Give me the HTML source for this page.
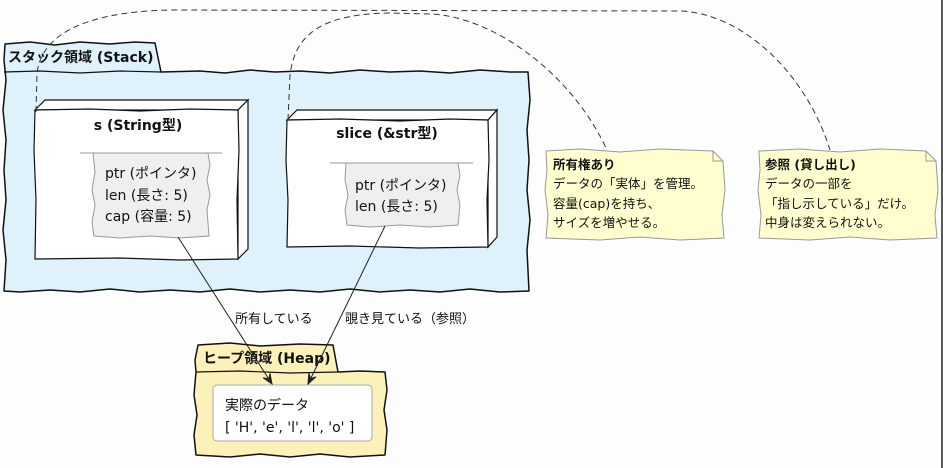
<!DOCTYPE html>
<html><head><meta charset="utf-8"><style>
html,body{margin:0;padding:0;background:#fdfdfd;}
svg{display:block;}
text{font-family:"DejaVu Sans","Noto Sans CJK JP",sans-serif;fill:#111;}
.b{font-weight:bold;font-size:14px;}
.t{font-size:14px;}
.n{font-size:12.5px;}
.c{font-size:13px;}
</style></head><body>
<svg width="943" height="468" viewBox="0 0 943 468" xmlns="http://www.w3.org/2000/svg">
<rect x="0" y="0" width="943" height="468" fill="#fdfdfd"/>
<line x1="942" y1="0" x2="942" y2="468" stroke="#222" stroke-width="1.5"/>

<!-- Stack package -->
<path d="M5,44 L30,42 L55,45 L80,42 L110,44 L135,42 L155,43 L161,72 L200,71 L225,73 L250,70 L275,72 L300,71 L330,73 L360,70 L390,72 L420,71 L450,73 L480,70 L510,72 L528,72 L530,100 L527,130 L529,160 L527,190 L530,220 L527,250 L529,291 L500,292 L470,289 L440,292 L410,290 L380,292 L350,289 L320,292 L290,290 L260,292 L230,289 L200,292 L170,290 L140,292 L110,289 L80,292 L50,290 L20,292 L4,291 L6,260 L3,230 L6,200 L4,170 L6,140 L3,110 L6,80 L4,60 Z" fill="#dff2fb" stroke="#111" stroke-width="1.5" stroke-linejoin="round"/>
<path d="M4,72 L40,71 L80,73 L120,71 L161,72" fill="none" stroke="#111" stroke-width="1.2"/>
<text class="b" x="8" y="62">スタック領域 (Stack)</text>

<!-- s node -->
<path d="M35,110 L45,100 L248,100 L238,110 Z" fill="#fff" stroke="#111" stroke-width="1.2"/>
<path d="M238,110 L248,100 L248,249 L238,259 Z" fill="#fff" stroke="#111" stroke-width="1.2"/>
<path d="M35,110 L90,109 L140,111 L190,109 L238,110 L239,150 L237,200 L238,259 L180,260 L120,258 L35,259 L36,200 L34,150 Z" fill="#fff" stroke="#111" stroke-width="1.2"/>
<text class="b" x="138" y="130" text-anchor="middle">s (String型)</text>
<path d="M93,153 L208,153 L210,165 L207,180 L210,195 L207,210 L209,236 L180,238 L150,236 L120,238 L94,236 L92,222 L95,205 L92,190 L95,172 Z" fill="#efefef" stroke="#999" stroke-width="1"/>
<line x1="80" y1="153" x2="222" y2="153" stroke="#999" stroke-width="1"/>
<text class="t" x="105" y="178">ptr (ポインタ)</text>
<text class="t" x="105" y="200">len (長さ: 5)</text>
<text class="t" x="105" y="221">cap (容量: 5)</text>

<!-- slice node -->
<path d="M287,120 L297,110 L497,110 L488,120 Z" fill="#fff" stroke="#111" stroke-width="1.2"/>
<path d="M488,120 L497,110 L497,237 L488,247 Z" fill="#fff" stroke="#111" stroke-width="1.2"/>
<path d="M287,120 L340,119 L400,121 L450,119 L488,120 L489,160 L487,200 L488,247 L420,248 L350,246 L287,247 L288,200 L286,160 Z" fill="#fff" stroke="#111" stroke-width="1.2"/>
<text class="b" x="387" y="138" text-anchor="middle">slice (&amp;str型)</text>
<path d="M346,163 L458,163 L460,175 L457,190 L460,205 L458,225 L430,227 L400,225 L370,227 L347,225 L345,210 L348,195 L345,180 Z" fill="#efefef" stroke="#999" stroke-width="1"/>
<line x1="330" y1="163" x2="473" y2="163" stroke="#999" stroke-width="1"/>
<text class="t" x="355" y="190">ptr (ポインタ)</text>
<text class="t" x="355" y="211">len (長さ: 5)</text>

<!-- Notes -->
<path d="M546,151 L580,149 L620,152 L660,149 L713,151 L723,161 L725,190 L722,215 L724,238 L680,240 L640,237 L600,240 L546,238 L548,215 L545,190 L547,170 Z" fill="#fefece" stroke="#999" stroke-width="1"/>
<path d="M713,151 L713,161 L723,161" fill="none" stroke="#999" stroke-width="1"/>
<text class="n" x="553" y="169" font-weight="bold">所有権あり</text>
<text class="n" x="553" y="188">データの「実体」を管理。</text>
<text class="n" x="553" y="208">容量(cap)を持ち、</text>
<text class="n" x="553" y="227">サイズを増やせる。</text>

<path d="M759,151 L800,149 L840,152 L880,149 L926,151 L936,161 L938,190 L935,215 L937,238 L890,240 L850,237 L810,240 L759,238 L761,215 L758,190 L760,170 Z" fill="#fefece" stroke="#999" stroke-width="1"/>
<path d="M926,151 L926,161 L936,161" fill="none" stroke="#999" stroke-width="1"/>
<text class="n" x="765" y="169" font-weight="bold">参照 (貸し出し)</text>
<text class="n" x="765" y="188">データの一部を</text>
<text class="n" x="765" y="208">「指し示している」だけ。</text>
<text class="n" x="765" y="227">中身は変えられない。</text>

<!-- Dashed connectors -->
<path d="M36,112 L37,74 C40,40 75,12 170,10 L680,11 C740,13 805,70 830,150" fill="none" stroke="#333" stroke-width="1" stroke-dasharray="6,4"/>
<path d="M288,120 L290,75 C295,35 320,14 390,13 L430,14 C490,16 570,70 607,150" fill="none" stroke="#333" stroke-width="1" stroke-dasharray="6,4"/>

<!-- Heap package -->
<path d="M198,345 L230,343 L260,346 L300,344 L333,345 L338,372 L360,371 L385,372 L387,390 L384,410 L387,430 L385,455 L350,457 L320,454 L290,457 L260,454 L230,457 L196,455 L194,435 L197,415 L194,395 L196,372 L195,360 Z" fill="#fcf1b9" stroke="#111" stroke-width="1.5" stroke-linejoin="round"/>
<path d="M196,372 L240,371 L290,373 L338,372" fill="none" stroke="#111" stroke-width="1.2"/>
<text class="b" x="203" y="363">ヒープ領域 (Heap)</text>
<rect x="213" y="385" width="159" height="56" rx="4" ry="4" fill="#fff" stroke="#aaa" stroke-width="1"/>
<text class="t" x="225" y="410">実際のデータ</text>
<text class="t" x="225" y="432">[ 'H', 'e', 'l', 'l', 'o' ]</text>

<!-- Arrows -->
<line x1="178" y1="237" x2="270" y2="381" stroke="#222" stroke-width="1"/>
<polygon points="272,384 263.2,377.8 268.8,378.9 270,373.4" fill="#222" stroke="#222" stroke-width="1"/>
<line x1="385" y1="226" x2="309.5" y2="381" stroke="#222" stroke-width="1"/>
<polygon points="308,384 308.8,373.2 310.7,378.6 316,376.8" fill="#222" stroke="#222" stroke-width="1"/>
<text class="c" x="235" y="323">所有している</text>
<text class="c" x="345" y="323">覗き見ている（参照）</text>
</svg>
</body></html>
